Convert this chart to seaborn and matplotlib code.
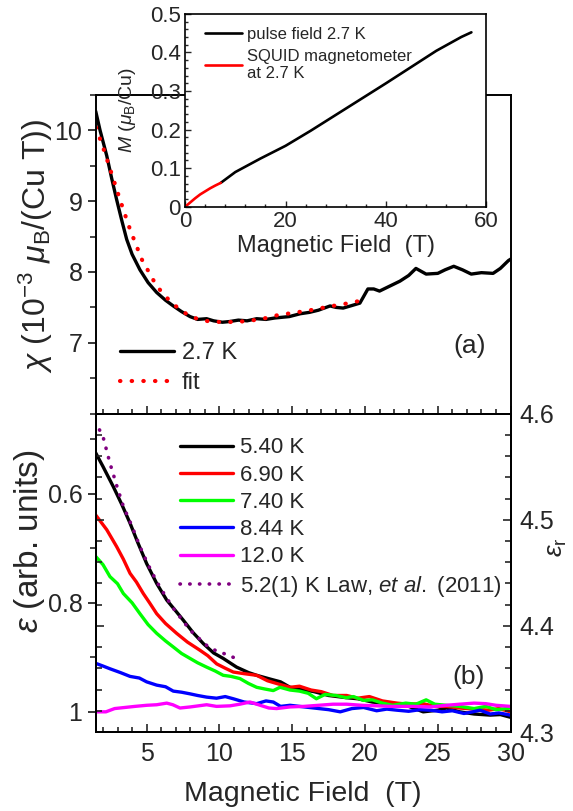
import numpy as np
import pandas as pd
import matplotlib
matplotlib.use("Agg")
import matplotlib.pyplot as plt
from matplotlib.ticker import MultipleLocator, FixedLocator, FuncFormatter
import seaborn as sns

# ---------------- data ----------------
# (a) susceptibility at 2.7 K
chi_field = [1.5, 1.8, 2.26, 2.6, 2.94, 3.3, 3.63, 4.0, 4.54, 5.1, 5.69, 6.3, 6.83, 7.4,
             7.98, 8.5, 9.12, 9.6, 10.2, 10.7, 11.3, 11.9, 12.56, 13.2, 13.8, 14.8, 15.55,
             16.2, 16.8, 17.6, 18.0, 18.5, 19.0, 19.65, 20.2, 20.6, 21.0, 21.7, 22.4, 23.0,
             23.5, 24.2, 25.0, 25.5, 26.1, 26.7, 27.3, 28.0, 28.8, 29.3, 29.85, 30.0]
chi_27K = [10.27, 10.0, 9.64, 9.32, 9.02, 8.72, 8.46, 8.25, 8.03, 7.85, 7.71, 7.60, 7.52, 7.44,
           7.37, 7.33, 7.34, 7.31, 7.29, 7.30, 7.32, 7.31, 7.34, 7.33, 7.35, 7.37, 7.41,
           7.43, 7.46, 7.52, 7.50, 7.49, 7.52, 7.56, 7.76, 7.76, 7.73, 7.80, 7.87, 7.95,
           8.05, 7.97, 7.98, 8.03, 8.08, 8.03, 7.97, 7.99, 7.98, 8.05, 8.16, 8.18]
fit_field = [1.52, 2.02, 2.48, 3.17, 3.86, 4.66, 5.69, 6.72, 7.98, 9.0, 10.27, 11.5, 12.8,
             14.0, 15.3, 16.0, 17.5, 18.9, 19.6]
fit_chi = [10.04, 9.75, 9.46, 9.02, 8.6, 8.18, 7.8, 7.56, 7.37, 7.31, 7.29, 7.30, 7.33,
           7.39, 7.43, 7.45, 7.51, 7.56, 7.59]

# inset: magnetization
pulse_field = [7.1, 10, 15, 20, 25, 30, 35, 40, 45, 50, 55, 57]
pulse_M = [0.062, 0.090, 0.125, 0.158, 0.197, 0.238, 0.279, 0.320, 0.362, 0.404, 0.440, 0.452]
squid_field = [0, 1, 2, 3, 4, 5, 6, 7.1]
squid_M = [0, 0.011, 0.022, 0.032, 0.040, 0.048, 0.055, 0.062]

# (b) dielectric constant (arb. units)
f_540 = [1.5, 2.0, 2.71, 3.3, 3.86, 4.4, 5.0, 5.7, 6.38, 7.0, 7.52, 8.2, 8.9, 9.6, 10.26,
         11.18, 12.0, 12.56, 13.5, 14.2, 14.85, 15.5, 16.5, 17.5, 18.7, 19.5, 20.5, 21.5,
         22.2, 23.0, 24.0, 25.0, 25.6, 26.5, 27.5, 28.6, 29.3, 30.0]
e_540 = [0.525, 0.55, 0.587, 0.62, 0.654, 0.69, 0.728, 0.765, 0.795, 0.815, 0.832, 0.855,
         0.875, 0.892, 0.902, 0.918, 0.928, 0.933, 0.94, 0.945, 0.955, 0.958, 0.963, 0.97,
         0.974, 0.976, 0.982, 0.985, 0.988, 0.99, 1.0, 0.997, 0.993, 1.0, 1.004, 1.006,
         1.005, 1.01]
f_690 = [1.5, 2.26, 2.94, 3.4, 3.86, 4.3, 4.77, 5.2, 5.69, 6.3, 7.06, 7.8, 8.66, 9.2, 9.81,
         10.4, 10.95, 11.7, 12.56, 13.3, 13.93, 14.85, 15.5, 16.3, 17.0, 17.8, 18.74, 19.5,
         20.3, 21.2, 22.2, 23.0, 24.0, 24.8, 25.6, 26.5, 27.5, 28.5, 29.2, 30.0]
e_690 = [0.639, 0.666, 0.697, 0.72, 0.746, 0.762, 0.783, 0.80, 0.82, 0.838, 0.856, 0.872,
         0.887, 0.897, 0.912, 0.92, 0.927, 0.93, 0.933, 0.943, 0.948, 0.955, 0.953, 0.96,
         0.963, 0.97, 0.97, 0.975, 0.972, 0.98, 0.984, 0.986, 0.985, 0.99, 0.99, 0.993,
         0.995, 0.997, 0.994, 1.0]
f_740 = [1.5, 2.0, 2.48, 3.0, 3.4, 4.0, 4.54, 5.1, 5.69, 6.3, 6.83, 7.4, 7.98, 8.5, 9.12,
         9.7, 10.26, 10.8, 11.41, 12.0, 12.56, 13.1, 13.7, 14.16, 14.85, 15.5, 16.1, 16.66,
         17.26, 18.0, 18.7, 19.2, 19.9, 20.5, 21.2, 21.9, 22.8, 23.5, 24.2, 24.8, 25.6,
         26.5, 27.5, 28.3, 29.0, 29.7, 30.0]
e_740 = [0.715, 0.73, 0.752, 0.765, 0.783, 0.80, 0.82, 0.84, 0.856, 0.87, 0.881, 0.893,
         0.902, 0.91, 0.918, 0.925, 0.933, 0.935, 0.939, 0.948, 0.955, 0.958, 0.961, 0.955,
         0.96, 0.962, 0.966, 0.976, 0.968, 0.97, 0.974, 0.972, 0.979, 0.978, 0.984, 0.988,
         0.984, 0.986, 0.978, 0.986, 0.988, 0.99, 0.994, 0.99, 0.996, 0.994, 0.993]
f_844 = [1.5, 2.0, 2.48, 3.2, 3.86, 4.5, 5.0, 5.69, 6.3, 6.83, 7.4, 7.98, 8.5, 9.12, 9.8,
         10.4, 10.95, 11.7, 12.56, 13.2, 13.7, 14.2, 14.85, 15.5, 16.5, 17.5, 18.3, 19.1,
         19.9, 20.8, 21.5, 22.2, 23.0, 23.8, 24.5, 25.3, 26.0, 26.8, 27.4, 27.9, 28.6,
         29.2, 30.0]
e_844 = [0.911, 0.916, 0.921, 0.928, 0.935, 0.938, 0.945, 0.951, 0.954, 0.962, 0.964,
         0.967, 0.97, 0.973, 0.975, 0.972, 0.976, 0.982, 0.985, 0.98, 0.982, 0.99, 0.988,
         0.99, 0.993, 0.996, 1.0, 0.994, 0.992, 0.998, 0.995, 0.997, 0.999, 0.996, 0.997,
         1.0, 0.998, 1.003, 1.0, 0.997, 1.004, 1.002, 1.006]
f_1200 = [1.5, 2.2, 2.8, 3.5, 4.2, 5.0, 5.69, 6.38, 6.8, 7.29, 8.0, 9.12, 9.8, 10.72, 11.4,
          12.1, 12.8, 13.4, 13.93, 14.85, 15.8, 16.8, 17.8, 18.74, 19.8, 20.8, 21.8, 23.3,
          24.5, 25.6, 26.5, 27.5, 28.3, 29.0, 30.0]
e_1200 = [1.0, 1.0, 0.994, 0.992, 0.99, 0.988, 0.987, 0.984, 0.987, 0.993, 0.991, 0.987,
          0.99, 0.989, 0.986, 0.982, 0.988, 0.993, 0.994, 0.991, 0.99, 0.988, 0.986, 0.986,
          0.988, 0.989, 0.99, 0.99, 0.991, 0.988, 0.986, 0.984, 0.985, 0.988, 0.99]
f_law = [1.45, 2.0, 2.48, 3.0, 3.4, 4.0, 4.54, 5.1, 5.69, 6.3, 6.83, 7.4, 7.98, 8.5, 9.12,
         9.7, 10.3, 10.95]
e_law = [0.467, 0.495, 0.544, 0.59, 0.623, 0.66, 0.697, 0.73, 0.761, 0.788, 0.81, 0.83,
         0.85, 0.863, 0.878, 0.887, 0.893, 0.90]

eps_series = [
    ("5.40 K", f_540, e_540, "#000000"),
    ("6.90 K", f_690, e_690, "#ff0000"),
    ("7.40 K", f_740, e_740, "#00ff00"),
    ("8.44 K", f_844, e_844, "#0000ff"),
    ("12.0 K", f_1200, e_1200, "#ff00ff"),
]

# ---------------- style ----------------
sns.set_style("ticks")
plt.rcParams["font.family"] = ["Liberation Sans", "DejaVu Sans"]
plt.rcParams["mathtext.fontset"] = "custom"
plt.rcParams["mathtext.rm"] = "Liberation Sans"
plt.rcParams["mathtext.it"] = "Liberation Sans:italic"
plt.rcParams["mathtext.bf"] = "Liberation Sans:bold"
plt.rcParams["axes.linewidth"] = 1.4
plt.rcParams["axes.edgecolor"] = "black"

TICK = 18

fig = plt.figure(figsize=(5.73, 8.11), dpi=100)
L, W = 0.167, 0.724
ax_a = fig.add_axes([L, 0.490, W, 0.393])
ax_b = fig.add_axes([L, 0.0974, W, 0.3926])
ax_in = fig.add_axes([0.323, 0.745, 0.526, 0.238])

# ---------------- panel (a) ----------------
sns.lineplot(x=chi_field, y=chi_27K, ax=ax_a, color="black", lw=2.4, sort=False,
             estimator=None, label="2.7 K")
sns.lineplot(x=fit_field, y=fit_chi, ax=ax_a, color="#ff0000", lw=3.0, sort=False,
             estimator=None, label="fit", linestyle=(0, (0.1, 2.7)),
             dash_capstyle="round")
ax_a.set_xlim(1.5, 30)
ax_a.set_ylim(6.0, 10.5)
ax_a.yaxis.set_major_locator(FixedLocator([7, 8, 9, 10]))
ax_a.yaxis.set_minor_locator(MultipleLocator(0.5))
ax_a.xaxis.set_major_locator(MultipleLocator(5))
ax_a.xaxis.set_minor_locator(MultipleLocator(1))
ax_a.tick_params(axis="y", which="both", direction="out", labelsize=TICK)
ax_a.tick_params(axis="y", which="major", length=6, width=1.3)
ax_a.tick_params(axis="y", which="minor", length=4, width=1.2)
ax_a.tick_params(axis="x", which="both", direction="in", labelbottom=False, width=1.2)
ax_a.tick_params(axis="x", which="major", length=6)
ax_a.tick_params(axis="x", which="minor", length=3.5)
ax_a.set_xlabel("")
ax_a.set_ylabel(r"$\chi$ (10$^{-3}$ $\mu_\mathrm{B}$/(Cu T))", fontsize=23)
ax_a.yaxis.set_label_coords(-0.098, 0.527)
ax_a.text(27.2, 6.95, "(a)", fontsize=19, ha="center", va="center")
ax_a.legend(loc="upper left", bbox_to_anchor=(0.0586, 0.225), frameon=False,
            fontsize=17, handlelength=2.3, handletextpad=0.33, labelspacing=0.36,
            borderaxespad=0.0, borderpad=0.0)

# ---------------- panel (b) ----------------
for lab, fx, ev, col in eps_series:
    sns.lineplot(x=fx, y=ev, ax=ax_b, color=col, lw=2.4, sort=False, estimator=None,
                 label=lab)
sns.lineplot(x=f_law, y=e_law, ax=ax_b, color="#800080", lw=2.6, sort=False,
             estimator=None, label=r"5.2(1) K Law, $et\ al.$ (2011)",
             linestyle=(0, (0.1, 2.6)), dash_capstyle="round")
ax_b.set_xlim(1.5, 30)
ax_b.set_ylim(1.037, 0.453)
ax_b.yaxis.set_major_locator(FixedLocator([0.6, 0.8, 1.0]))
ax_b.yaxis.set_major_formatter(FuncFormatter(
    lambda v, p: "1" if abs(v - 1) < 1e-6 else f"{v:.1f}"))
ax_b.yaxis.set_minor_locator(FixedLocator([0.5, 0.7, 0.9]))
ax_b.xaxis.set_major_locator(MultipleLocator(5))
ax_b.xaxis.set_minor_locator(MultipleLocator(1))
ax_b.tick_params(axis="y", which="both", direction="out", labelsize=TICK)
ax_b.tick_params(axis="y", which="major", length=6, width=1.3)
ax_b.tick_params(axis="y", which="minor", length=4, width=1.2)
ax_b.tick_params(axis="x", which="both", direction="in", labelsize=TICK, width=1.2, pad=7)
ax_b.tick_params(axis="x", which="major", length=6)
ax_b.tick_params(axis="x", which="minor", length=3.5)
ax_b.set_xlabel("Magnetic Field  (T)", fontsize=20.5, labelpad=11)
ax_b.set_ylabel(r"$\varepsilon$ (arb. units)", fontsize=24)
ax_b.yaxis.set_label_coords(-0.118, 0.60)
ax_b.text(27.1, 0.937, "(b)", fontsize=19, ha="center", va="center")
ax_b.legend(loc="upper left", bbox_to_anchor=(0.203, 0.925), frameon=False, fontsize=16,
            handlelength=2.4, handletextpad=0.3, labelspacing=0.28, borderaxespad=0.0,
            borderpad=0.0)

ax_r = ax_b.twinx()
ax_r.set_ylim(4.3, 4.6)
ax_r.yaxis.set_major_locator(FixedLocator([4.3, 4.4, 4.5, 4.6]))
ax_r.yaxis.set_minor_locator(MultipleLocator(0.02))
ax_r.tick_params(axis="y", which="both", direction="in", left=True, right=True,
                 labelleft=False, labelright=True, labelsize=TICK, width=1.2, pad=6)
ax_r.tick_params(axis="y", which="major", length=6)
ax_r.tick_params(axis="y", which="minor", length=4)
ax_r.set_ylabel(r"$\varepsilon_\mathrm{r}$", fontsize=19)
ax_r.yaxis.set_label_coords(1.082, 0.58)
for s in ax_r.spines.values():
    s.set_linewidth(1.4)

# ---------------- inset ----------------
ax_in.set_facecolor("white")
sns.lineplot(x=pulse_field, y=pulse_M, ax=ax_in, color="black", lw=1.9, sort=False,
             estimator=None, label="pulse field 2.7 K")
sns.lineplot(x=squid_field, y=squid_M, ax=ax_in, color="#ff0000", lw=1.9, sort=False,
             estimator=None, label="SQUID magnetometer\nat 2.7 K")
ax_in.set_xlim(0, 60)
ax_in.set_ylim(0, 0.5)
ax_in.xaxis.set_major_locator(MultipleLocator(20))
ax_in.xaxis.set_minor_locator(MultipleLocator(4))
ax_in.yaxis.set_major_locator(MultipleLocator(0.1))
ax_in.yaxis.set_minor_locator(MultipleLocator(0.02))
ax_in.yaxis.set_major_formatter(FuncFormatter(
    lambda v, p: "0" if abs(v) < 1e-9 else f"{v:.1f}"))
ax_in.tick_params(which="both", direction="in", labelsize=16, width=1.0, pad=3)
ax_in.tick_params(which="major", length=4)
ax_in.tick_params(which="minor", length=2.5)
ax_in.set_xlabel("Magnetic Field  (T)", fontsize=17, labelpad=2)
ax_in.set_ylabel(r"$M$ ($\mu_\mathrm{B}$/Cu)", fontsize=14)
ax_in.yaxis.set_label_coords(-0.155, 0.5)
for s in ax_in.spines.values():
    s.set_linewidth(1.2)
ax_in.legend(loc="upper left", bbox_to_anchor=(0.066, 0.93), frameon=False, fontsize=12,
             handlelength=2.2, handletextpad=0.35, labelspacing=0.4, borderaxespad=0.0,
             borderpad=0.0)

fig.savefig("out.png", dpi=100)
